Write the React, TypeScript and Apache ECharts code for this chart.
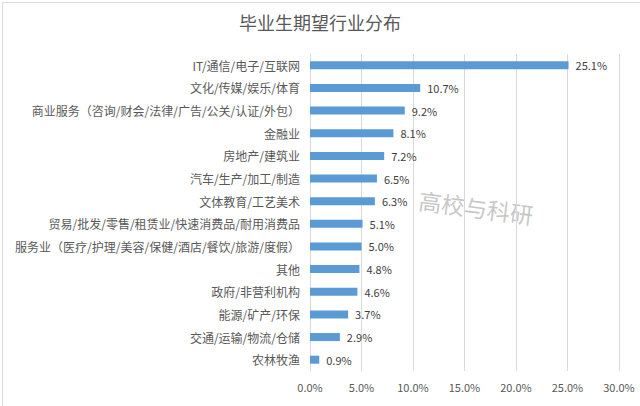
import React, { useEffect, useRef } from "react";
import * as echarts from "echarts";

const categories = [
  "IT/通信/电子/互联网",
  "文化/传媒/娱乐/体育",
  "商业服务（咨询/财会/法律/广告/公关/认证/外包）",
  "金融业",
  "房地产/建筑业",
  "汽车/生产/加工/制造",
  "文体教育/工艺美术",
  "贸易/批发/零售/租赁业/快速消费品/耐用消费品",
  "服务业（医疗/护理/美容/保健/酒店/餐饮/旅游/度假）",
  "其他",
  "政府/非营利机构",
  "能源/矿产/环保",
  "交通/运输/物流/仓储",
  "农林牧渔",
];
const values = [25.1, 10.7, 9.2, 8.1, 7.2, 6.5, 6.3, 5.1, 5.0, 4.8, 4.6, 3.7, 2.9, 0.9];
const title = "毕业生期望行业分布";
const watermark = "高校与科研";

const FONT = '"Noto Sans CJK SC", "Microsoft YaHei", sans-serif';

export default function App() {
  const ref = useRef<HTMLDivElement>(null);
  useEffect(() => {
    document.body.style.margin = "0";
    const chart = echarts.init(ref.current!, null, { renderer: "svg" });
    chart.setOption({
      animation: false,
      backgroundColor: "#ffffff",
      title: {
        text: title,
        left: "center",
        top: 8,
        textStyle: { fontFamily: FONT, fontSize: 18, fontWeight: "normal", color: "#595959" },
      },
      grid: { left: 310, right: 21, top: 54, bottom: 35, containLabel: false },
      xAxis: {
        type: "value",
        min: 0,
        max: 30,
        interval: 5,
        axisLine: { show: false },
        axisTick: { show: false },
        splitLine: { show: true, lineStyle: { color: "#d9d9d9", width: 1 } },
        axisLabel: {
          formatter: (v: number) => v.toFixed(1) + "%",
          color: "#595959",
          fontFamily: FONT,
          fontSize: 11,
          margin: 10,
        },
      },
      yAxis: {
        type: "category",
        data: categories,
        inverse: true,
        axisLine: { show: true, lineStyle: { color: "#d9d9d9" } },
        axisTick: { show: false },
        axisLabel: { color: "#595959", fontFamily: FONT, fontSize: 12, margin: 10 },
      },
      series: [
        {
          type: "bar",
          data: values,
          barWidth: 8,
          itemStyle: { color: "#5b9bd5" },
          label: {
            show: true,
            position: "right",
            distance: 7,
            formatter: (p: any) => Number(p.value).toFixed(1) + "%",
            color: "#404040",
            fontFamily: FONT,
            fontSize: 11,
          },
        },
      ],
      graphic: [
        {
          type: "rect",
          left: 0,
          top: 0,
          shape: { x: 0.5, y: 0.5, width: 639, height: 405 },
          style: { fill: "none", stroke: "#d9d9d9", lineWidth: 1 },
          silent: true,
        },
        {
          type: "text",
          x: 476,
          y: 207,
          rotation: -0.13,
          style: {
            text: watermark,
            fontFamily: FONT,
            fontSize: 23,
            fill: "rgba(150,150,150,0.55)",
            align: "center",
            verticalAlign: "middle",
          },
          silent: true,
        },
      ],
    });
    return () => chart.dispose();
  }, []);
  return <div ref={ref} style={{ width: 640, height: 406 }} />;
}
